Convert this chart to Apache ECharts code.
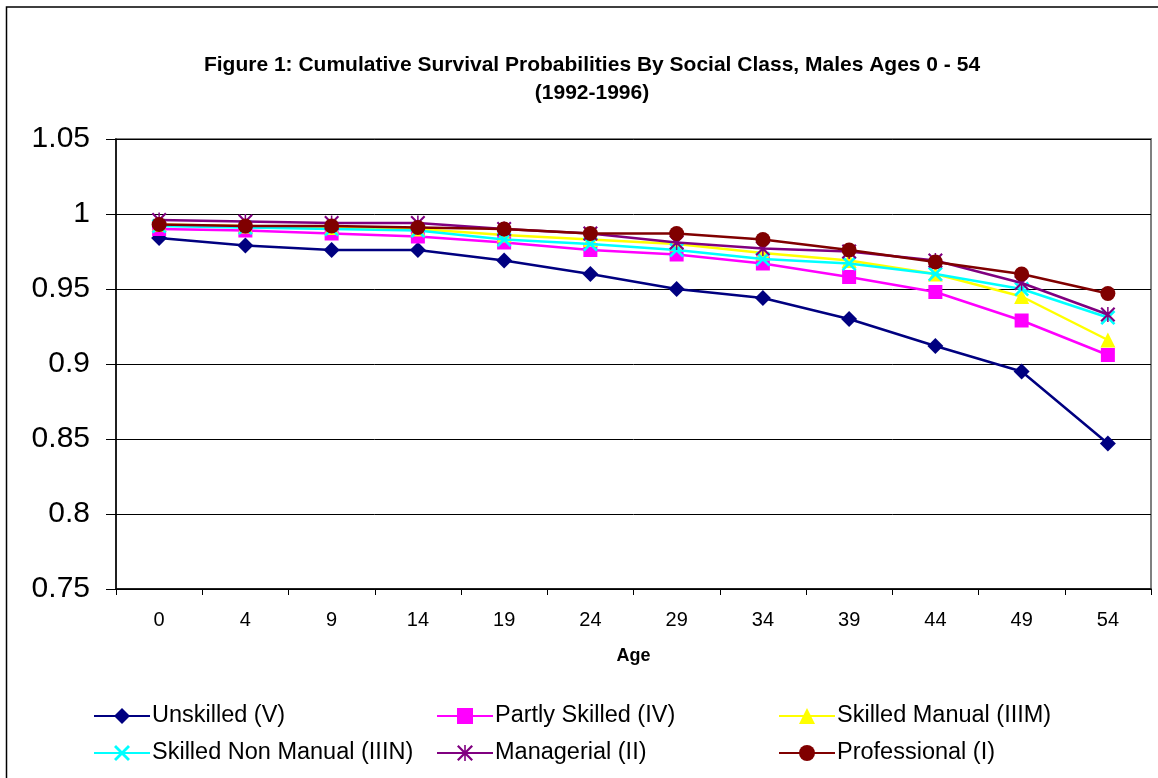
<!DOCTYPE html>
<html>
<head>
<meta charset="utf-8">
<script src="https://cdn.jsdelivr.net/npm/echarts@6/dist/echarts.min.js"></script>
<style>html,body{margin:0;padding:0;background:#fff;}#c{width:1158px;height:778px;}</style>
</head>
<body>
<div id="c"></div>
<script>
const ages = ['0','4','9','14','19','24','29','34','39','44','49','54'];
const unskilled    = [0.984,0.979,0.976,0.976,0.969,0.960,0.950,0.944,0.930,0.912,0.895,0.847];
const partlySkilled= [0.990,0.989,0.987,0.985,0.981,0.976,0.973,0.967,0.958,0.948,0.929,0.906];
const skilledManual= [0.993,0.992,0.991,0.990,0.986,0.983,0.980,0.974,0.969,0.960,0.945,0.916];
const skilledNonManual=[0.992,0.991,0.990,0.989,0.983,0.980,0.976,0.970,0.967,0.960,0.950,0.931];
const managerial   = [0.996,0.995,0.994,0.994,0.990,0.987,0.981,0.977,0.975,0.969,0.954,0.933];
const professional = [0.993,0.992,0.992,0.991,0.990,0.987,0.987,0.983,0.976,0.968,0.960,0.947];
const seriesNames = ['Unskilled (V)','Partly Skilled (IV)','Skilled Manual (IIIM)','Skilled Non Manual (IIIN)','Managerial (II)','Professional (I)'];

const FONT = 'Liberation Sans, Arial, sans-serif';
const xPath = 'path://M0,2.5L2.5,0L20,17.5L17.5,20Z M17.5,0L20,2.5L2.5,20L0,17.5Z';
const starPath = 'path://M0,2L2,0L20,18L18,20Z M18,0L20,2L2,20L0,18Z M9,0L11,0L11,20L9,20Z';

const styles = [
  {data: unskilled, color:'#000080', symbol:'diamond', size:16},
  {data: partlySkilled, color:'#FF00FF', symbol:'rect', size:14},
  {data: skilledManual, color:'#FFFF00', symbol:'triangle', size:15},
  {data: skilledNonManual, color:'#00FFFF', symbol:xPath, size:15},
  {data: managerial, color:'#800080', symbol:starPath, size:15},
  {data: professional, color:'#800000', symbol:'circle', size:15}
];

const series = styles.map((s,i)=>({
  name: seriesNames[i], type:'line', data: s.data,
  symbol: s.symbol, symbolSize: s.size, showAllSymbol: true,
  lineStyle:{color:s.color, width:2.5},
  itemStyle:{color:s.color, borderWidth:0},
  emphasis:{disabled:true}, animation:false, z: 2+i
}));

const legendPos = [[93,704],[436,704],[778,704],[93,741],[436,741],[778,741]];
const legends = seriesNames.map((n,i)=>({
  data:[n], left: legendPos[i][0], top: legendPos[i][1], padding:0,
  itemWidth:56, itemHeight:20, itemGap:0, selectedMode:false,
  textStyle:{fontFamily:FONT, fontSize:23.5, color:'#000', padding:[0,0,0,-3]}
}));

const chart = echarts.init(document.getElementById('c'));
chart.setOption({
  backgroundColor:'#fff',
  animation:false,
  title:{
    text:'Figure 1: Cumulative Survival Probabilities By Social Class, Males Ages 0 - 54\n(1992-1996)',
    left:587, top:46, textAlign:'center',
    textStyle:{fontFamily:FONT, fontSize:21, fontWeight:'bold', color:'#000', lineHeight:28}
  },
  graphic:[{type:'rect', shape:{x:6.5,y:7,width:1200,height:900}, style:{fill:'none', stroke:'#000', lineWidth:1.5}, silent:true, z:-1}],
  legend: legends,
  grid:{left:116, top:139, right:7, bottom:189, show:true, borderColor:'#808080', borderWidth:2, backgroundColor:'transparent'},
  xAxis:{
    type:'category', data: ages, boundaryGap:true,
    name:'Age', nameLocation:'middle', nameGap:58,
    nameTextStyle:{fontFamily:FONT, fontSize:18, fontWeight:'bold', color:'#000'},
    axisLine:{lineStyle:{color:'#000', width:1.5}},
    axisTick:{show:true, length:6, lineStyle:{color:'#000'}},
    axisLabel:{fontFamily:FONT, fontSize:20, color:'#000', margin:21},
    splitLine:{show:false}
  },
  yAxis:{
    type:'value', min:0.75, max:1.05, interval:0.05,
    axisLine:{show:true, lineStyle:{color:'#000', width:1.5}},
    axisTick:{show:true, length:10, lineStyle:{color:'#000'}},
    axisLabel:{fontFamily:FONT, fontSize:30, color:'#000', margin:26,
      formatter: v => String(parseFloat(v.toFixed(2)))},
    splitLine:{show:true, lineStyle:{color:'#000', width:1}}
  },
  series: series
});
</script>
</body>
</html>
